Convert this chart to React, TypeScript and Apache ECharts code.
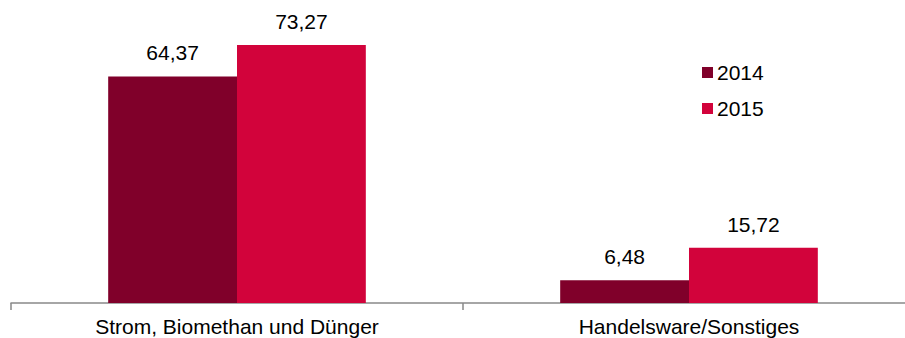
import React, { useEffect, useRef } from "react";
import * as echarts from "echarts";

const categories = ["Strom, Biomethan und Dünger", "Handelsware/Sonstiges"];
const seriesNames = ["2014", "2015"];
const values2014 = [64.37, 6.48];
const values2015 = [73.27, 15.72];
const colors = ["#80002A", "#D2033B"];

export default function App() {
  const ref = useRef<HTMLDivElement>(null);
  useEffect(() => {
    if (!ref.current) return;
    const chart = echarts.init(ref.current, undefined, { renderer: "svg" });
    const fmt = (p: any) => String(p.value.toFixed(2)).replace(".", ",");
    const font = "Liberation Sans, Arial, sans-serif";
    chart.setOption({
      animation: false,
      textStyle: { fontFamily: font },
      legend: {
        orient: "vertical",
        left: 697,
        top: 57,
        itemWidth: 11,
        itemHeight: 11,
        itemGap: 15,
        icon: "rect",
        textStyle: { fontSize: 21, color: "#000", fontFamily: font, padding: [0, 0, 0, -1] },
        data: seriesNames,
      },
      grid: { left: 11, right: 0, bottom: 35, top: 21.4 },
      xAxis: {
        type: "category",
        data: categories,
        axisLine: { lineStyle: { color: "#898989", width: 1.5 } },
        axisTick: { show: true, length: 7, lineStyle: { color: "#898989", width: 1.5 } },
        axisLabel: { fontSize: 21, color: "#000", margin: 13, fontFamily: font },
      },
      yAxis: { type: "value", min: 0, max: 80, show: false, splitLine: { show: false } },
      series: [
        {
          name: seriesNames[0],
          type: "bar",
          data: values2014,
          barWidth: "28.5%",
          barGap: "0%",
          itemStyle: { color: colors[0] },
          label: { show: true, position: "top", distance: 13, fontSize: 21, color: "#000", formatter: fmt, fontFamily: font },
        },
        {
          name: seriesNames[1],
          type: "bar",
          data: values2015,
          barWidth: "28.5%",
          barGap: "0%",
          itemStyle: { color: colors[1] },
          label: { show: true, position: "top", distance: 13, fontSize: 21, color: "#000", formatter: fmt, fontFamily: font },
        },
      ],
    });
    return () => chart.dispose();
  }, []);
  return <div ref={ref} style={{ position: "fixed", left: 0, top: 0, width: 915, height: 338, background: "#fff" }} />;
}
